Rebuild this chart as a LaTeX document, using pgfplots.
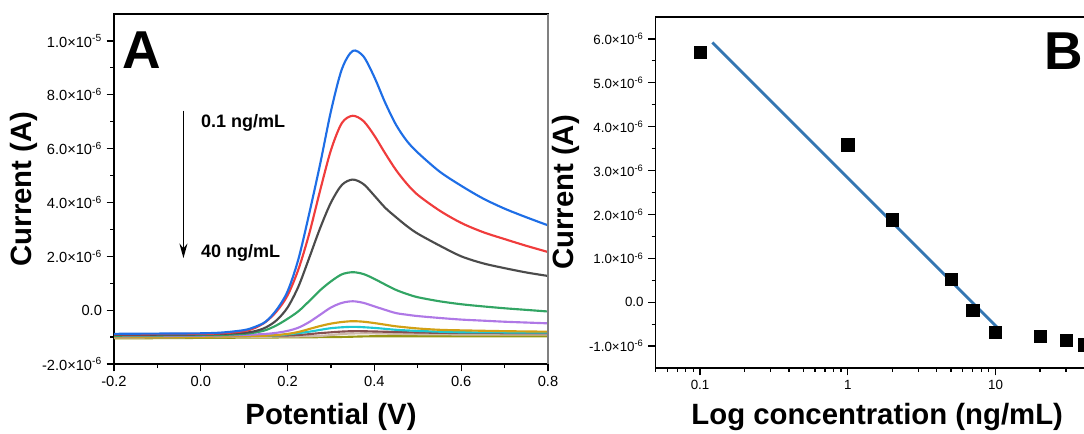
\documentclass[border=0pt]{standalone}
\usepackage{pgfplots}
\pgfplotsset{compat=1.18}
\usepackage{fontspec}
\setmainfont{Liberation Sans}
\usetikzlibrary{arrows.meta}
\definecolor{cblue}{RGB}{30,110,230}
\definecolor{cred}{RGB}{240,60,60}
\definecolor{cgrey}{RGB}{75,75,75}
\definecolor{cgreen}{RGB}{50,165,100}
\definecolor{cpurple}{RGB}{175,120,230}
\definecolor{cgold}{RGB}{210,160,20}
\definecolor{ccyan}{RGB}{30,200,210}
\definecolor{cmaroon}{RGB}{135,80,80}
\definecolor{cbeige}{RGB}{205,185,170}
\definecolor{colive}{RGB}{150,150,20}
\definecolor{cfit}{RGB}{52,118,178}
\pgfplotsset{
  myax/.style={
    scale only axis,
    axis line style={line width=1.1pt},
    tick align=outside,
    tick pos=left,
    major tick length=5.5pt,
    minor tick length=3pt,
    every tick/.style={black, line width=0.9pt},
    label style={font=\fontsize{22}{26}\selectfont\bfseries},
    scaled y ticks=false,
    scaled x ticks=false,
    clip=true,
  }
}
\begin{document}
\begin{tikzpicture}[x=1pt,y=1pt]
% ---------------- Panel A ----------------
\begin{axis}[myax, name=A, at={(85.5pt,-10.5pt)}, anchor=north west,
  width=325.5pt, height=262.5pt,
  tick label style={font=\fontsize{11}{13}\selectfont},
  xmin=-0.2, xmax=0.8, ymin=-2e-6, ymax=1.1e-5,
  xtick={-0.2,0,0.2,0.4,0.6,0.8},
  xticklabels={-0.2,0.0,0.2,0.4,0.6,0.8},
  minor x tick num=1,
  ytick={-2e-6,0,2e-6,4e-6,6e-6,8e-6,1e-5},
  yticklabels={-2.0×10\textsuperscript{-6},0.0,2.0×10\textsuperscript{-6},4.0×10\textsuperscript{-6},6.0×10\textsuperscript{-6},8.0×10\textsuperscript{-6},1.0×10\textsuperscript{-5}},
  minor y tick num=1,
  xlabel={Potential (V)}, ylabel={Current (A)},
  xlabel style={at={(axis description cs:0.5,-0.151)}, anchor=center},
  ylabel style={at={(axis description cs:-0.207,0.5)}, anchor=center},
  every axis plot/.append style={line width=1.6pt, smooth},
]
\addplot[colive] coordinates {(-0.2,-1.05e-6) (0.0,-1.03e-6) (0.3,-1.0e-6) (0.4,-0.97e-6) (0.6,-0.97e-6) (0.8,-0.97e-6)};
\addplot[cbeige] coordinates {(-0.2,-1.02e-6) (0.0,-1.0e-6) (0.25,-0.97e-6) (0.33,-0.88e-6) (0.38,-0.86e-6) (0.45,-0.88e-6) (0.55,-0.9e-6) (0.8,-0.91e-6)};
\addplot[cmaroon] coordinates {(-0.2,-0.98e-6) (0.0,-0.97e-6) (0.2,-0.94e-6) (0.27,-0.86e-6) (0.32,-0.8e-6) (0.36,-0.78e-6) (0.42,-0.8e-6) (0.5,-0.83e-6) (0.6,-0.85e-6) (0.8,-0.86e-6)};
\addplot[ccyan] coordinates {(-0.2,-0.98e-6) (0.0,-0.97e-6) (0.15,-0.95e-6) (0.2,-0.9e-6) (0.25,-0.8e-6) (0.3,-0.67e-6) (0.35,-0.62e-6) (0.4,-0.66e-6) (0.45,-0.73e-6) (0.5,-0.77e-6) (0.6,-0.82e-6) (0.8,-0.83e-6)};
\addplot[cgold] coordinates {(-0.2,-1.0e-6) (0.0,-0.99e-6) (0.15,-0.95e-6) (0.2,-0.88e-6) (0.225,-0.81e-6) (0.25,-0.7e-6) (0.275,-0.59e-6) (0.3,-0.5e-6) (0.325,-0.44e-6) (0.35,-0.41e-6) (0.375,-0.43e-6) (0.4,-0.48e-6) (0.425,-0.54e-6) (0.45,-0.6e-6) (0.5,-0.68e-6) (0.55,-0.73e-6) (0.6,-0.75e-6) (0.7,-0.78e-6) (0.8,-0.8e-6)};
\addplot[cpurple] coordinates {(-0.2,-0.97e-6) (0.0,-0.95e-6) (0.1,-0.92e-6) (0.15,-0.88e-6) (0.175,-0.84e-6) (0.2,-0.77e-6) (0.225,-0.65e-6) (0.25,-0.44e-6) (0.275,-0.17e-6) (0.3,0.1e-6) (0.325,0.27e-6) (0.35,0.33e-6) (0.375,0.27e-6) (0.4,0.14e-6) (0.425,0.01e-6) (0.45,-0.11e-6) (0.475,-0.17e-6) (0.5,-0.22e-6) (0.55,-0.29e-6) (0.6,-0.35e-6) (0.65,-0.39e-6) (0.7,-0.43e-6) (0.75,-0.46e-6) (0.8,-0.49e-6)};
\addplot[cgreen] coordinates {(-0.2,-0.95e-6) (0.0,-0.93e-6) (0.05,-0.92e-6) (0.1,-0.88e-6) (0.125,-0.83e-6) (0.15,-0.74e-6) (0.175,-0.56e-6) (0.2,-0.32e-6) (0.225,-0.04e-6) (0.25,0.34e-6) (0.275,0.74e-6) (0.3,1.07e-6) (0.325,1.33e-6) (0.35,1.41e-6) (0.375,1.34e-6) (0.4,1.16e-6) (0.425,0.95e-6) (0.45,0.75e-6) (0.475,0.6e-6) (0.5,0.48e-6) (0.55,0.33e-6) (0.6,0.22e-6) (0.65,0.14e-6) (0.7,0.07e-6) (0.75,0.01e-6) (0.8,-0.05e-6)};
\addplot[cgrey] coordinates {(-0.2,-0.92e-6) (0.0,-0.9e-6) (0.05,-0.88e-6) (0.1,-0.84e-6) (0.125,-0.78e-6) (0.15,-0.64e-6) (0.175,-0.37e-6) (0.2,0.1e-6) (0.225,0.88e-6) (0.25,1.95e-6) (0.275,3.05e-6) (0.3,4.0e-6) (0.325,4.65e-6) (0.35,4.85e-6) (0.375,4.68e-6) (0.4,4.25e-6) (0.425,3.8e-6) (0.45,3.45e-6) (0.475,3.12e-6) (0.5,2.84e-6) (0.55,2.4e-6) (0.6,2.0e-6) (0.65,1.74e-6) (0.7,1.56e-6) (0.75,1.4e-6) (0.8,1.27e-6)};
\addplot[cred] coordinates {(-0.2,-0.9e-6) (0.0,-0.88e-6) (0.05,-0.86e-6) (0.1,-0.78e-6) (0.125,-0.66e-6) (0.15,-0.43e-6) (0.175,-0.04e-6) (0.2,0.55e-6) (0.225,1.52e-6) (0.25,2.85e-6) (0.275,4.45e-6) (0.3,5.95e-6) (0.325,6.95e-6) (0.35,7.22e-6) (0.375,7.02e-6) (0.4,6.48e-6) (0.425,5.82e-6) (0.45,5.2e-6) (0.475,4.69e-6) (0.5,4.28e-6) (0.55,3.7e-6) (0.6,3.24e-6) (0.65,2.9e-6) (0.7,2.64e-6) (0.75,2.39e-6) (0.8,2.16e-6)};
\addplot[cblue] coordinates {(-0.2,-0.88e-6) (-0.1,-0.87e-6) (0.0,-0.86e-6) (0.05,-0.83e-6) (0.1,-0.74e-6) (0.125,-0.62e-6) (0.15,-0.42e-6) (0.175,0.02e-6) (0.2,0.7e-6) (0.225,1.9e-6) (0.25,3.6e-6) (0.275,5.43e-6) (0.3,7.4e-6) (0.325,8.95e-6) (0.35,9.63e-6) (0.375,9.42e-6) (0.4,8.65e-6) (0.425,7.7e-6) (0.45,6.88e-6) (0.475,6.28e-6) (0.5,5.85e-6) (0.55,5.15e-6) (0.6,4.62e-6) (0.65,4.15e-6) (0.7,3.77e-6) (0.75,3.45e-6) (0.8,3.15e-6)};
\draw[line width=1.1pt, -{Stealth[length=11pt,width=6pt]}] (axis cs:-0.04,7.41e-6) -- (axis cs:-0.04,1.93e-6);
\node[anchor=base west, inner sep=0pt, font=\fontsize{13.5}{15}\selectfont\bfseries] at (axis cs:0.0,6.77e-6) {0.1 ng/mL};
\node[anchor=base west, inner sep=0pt, font=\fontsize{13.5}{15}\selectfont\bfseries] at (axis cs:0.0,1.97e-6) {40 ng/mL};
\node[anchor=base west, inner sep=0pt, font=\fontsize{40}{44}\selectfont\bfseries] at (axis cs:-0.1816,8.96e-6) {A};
\end{axis}
\draw[gray, line width=1.1pt] (A.north east) -- (A.south east);
% ---------------- Panel B ----------------
\begin{axis}[myax, at={(491.7pt,-12.75pt)}, anchor=north west,
  width=332.4pt, height=263.25pt,
  tick label style={font=\fontsize{10}{12}\selectfont},
  xmode=log, log basis x=10,
  xmin=0.05, xmax=50, ymin=-1.5e-6, ymax=6.5e-6,
  xtick={0.1,1,10}, xticklabels={0.1,1,10},
  minor xtick={0.05,0.06,0.07,0.08,0.09,0.2,0.3,0.4,0.5,0.6,0.7,0.8,0.9,2,3,4,5,6,7,8,9,20,30,40,50},
  ytick={-1e-6,0,1e-6,2e-6,3e-6,4e-6,5e-6,6e-6},
  yticklabels={-1.0×10\textsuperscript{-6},0.0,1.0×10\textsuperscript{-6},2.0×10\textsuperscript{-6},3.0×10\textsuperscript{-6},4.0×10\textsuperscript{-6},5.0×10\textsuperscript{-6},6.0×10\textsuperscript{-6}},
  minor y tick num=1,
  xlabel={Log concentration (ng/mL)}, ylabel={Current (A)},
  xlabel style={at={(axis description cs:0.5,-0.139)}, anchor=center},
  ylabel style={at={(axis description cs:-0.202,0.5)}, anchor=center},
]
\addplot[cfit, line width=2.1pt] coordinates {(0.121,5.92e-6) (10.3,-0.58e-6)};
\addplot[only marks, mark=square*, mark size=4.6pt, black] coordinates {(0.1,5.69e-6) (1,3.59e-6) (2,1.88e-6) (5,0.52e-6) (7,-0.19e-6) (10,-0.69e-6) (20,-0.77e-6) (30,-0.87e-6) (40,-0.97e-6)};
\node[anchor=base west, inner sep=0pt, font=\fontsize{40}{44}\selectfont\bfseries] at (axis cs:21.3,5.3e-6) {B};
\end{axis}
\pgfresetboundingbox
\useasboundingbox (0,0) rectangle (813pt,-325.5pt);
\end{tikzpicture}
\end{document}
